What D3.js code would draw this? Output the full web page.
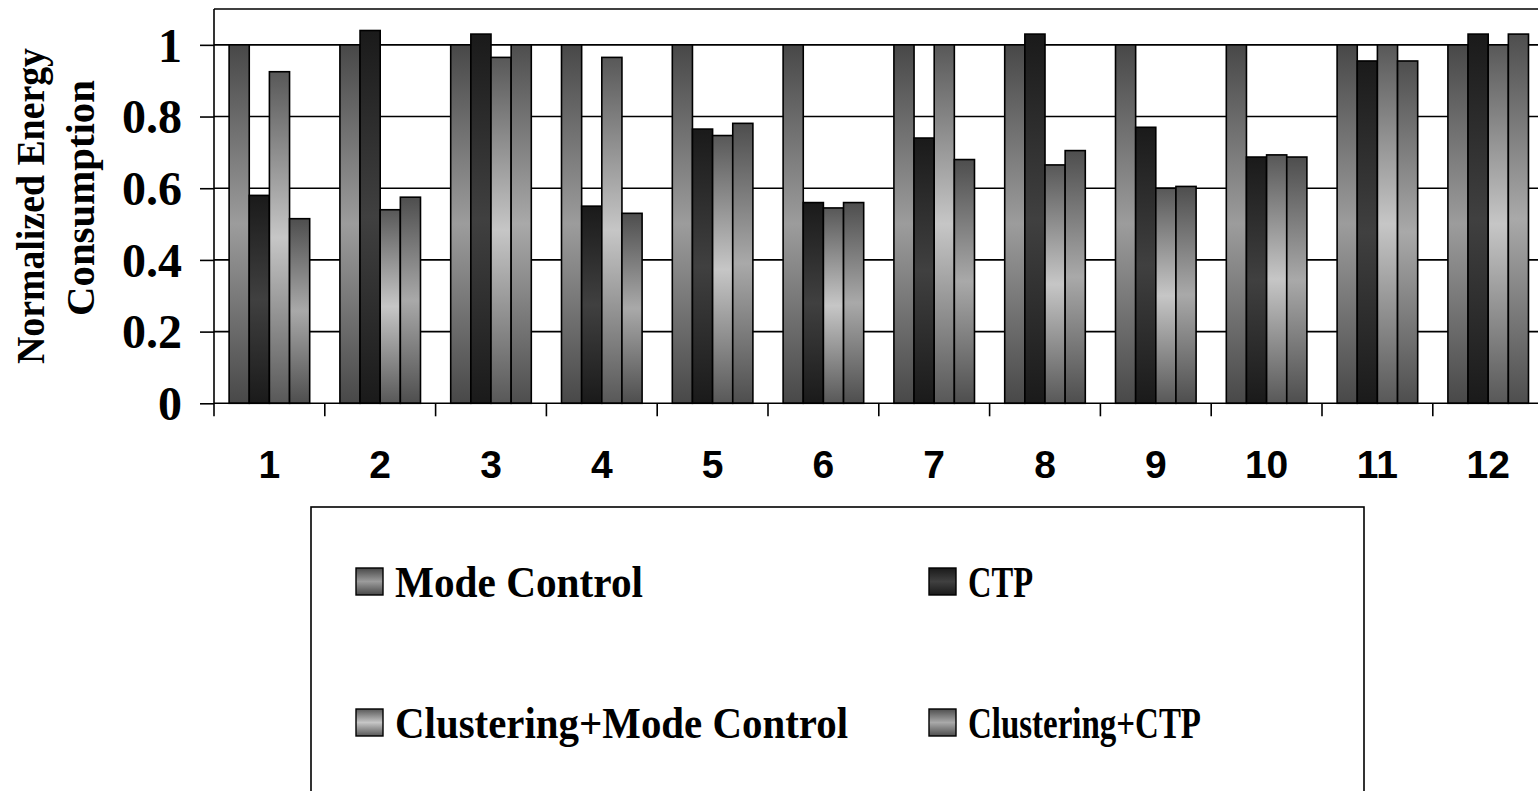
<!DOCTYPE html>
<html>
<head>
<meta charset="utf-8">
<script src="https://cdn.jsdelivr.net/npm/d3@7"></script>
<style>
  body { margin: 0; background: #fff; }
  .aText { font-family: "Liberation Serif", "Times New Roman", serif; font-weight: bold; }
  .xText { font-family: "Liberation Sans", Arial, sans-serif; font-weight: bold; }
</style>
</head>
<body>
<div id="chart"></div>
<script>
/// Data.
var categories = ["1", "2", "3", "4", "5", "6", "7", "8", "9", "10", "11", "12"];
var seriesNames = ["Mode Control", "CTP", "Clustering+Mode Control", "Clustering+CTP"];
var modeControl = [1, 1, 1, 1, 1, 1, 1, 1, 1, 1, 1, 1];
var ctp = [0.58, 1.04, 1.03, 0.55, 0.765, 0.56, 0.74, 1.03, 0.77, 0.687, 0.955, 1.03];
var clusteringMode = [0.925, 0.54, 0.965, 0.965, 0.747, 0.545, 1.0, 0.665, 0.60, 0.693, 1.0, 1.0];
var clusteringCtp = [0.515, 0.575, 1.0, 0.53, 0.781, 0.56, 0.68, 0.705, 0.605, 0.687, 0.955, 1.03];
var yTicks = [0, 0.2, 0.4, 0.6, 0.8, 1];

var seriesValues = [modeControl, ctp, clusteringMode, clusteringCtp];

/// Gradient stops (edge, middle) per series, Excel style shading.
var shades = [
  ["#484848", "#9c9c9c"],
  ["#1a1a1a", "#404040"],
  ["#585858", "#c6c6c6"],
  ["#4e4e4e", "#a9a9a9"]
];

var width = 1538;
var height = 791;
var plotLeft = 214;
var plotTop = 9;
var plotBottom = 403.3;
var step = 110.8;
var plotRight = plotLeft + step * categories.length;

var svg = d3.select("#chart").append("svg")
  .attr("width", width)
  .attr("height", height);

var defs = svg.append("defs");
shades.forEach(function (s, i) {
  var g = defs.append("linearGradient")
    .attr("id", "shade" + i)
    .attr("x1", 0).attr("y1", 0).attr("x2", 0).attr("y2", 1);
  g.append("stop").attr("offset", "0%").attr("stop-color", s[0]);
  g.append("stop").attr("offset", "50%").attr("stop-color", s[1]);
  g.append("stop").attr("offset", "100%").attr("stop-color", s[0]);
});

var x0 = d3.scaleBand()
  .domain(categories)
  .range([plotLeft, plotRight])
  .padding(0);

var x1 = d3.scaleBand()
  .domain(seriesNames)
  .range([0, x0.bandwidth()])
  .paddingInner(0)
  .paddingOuter(0.75);

var y = d3.scaleLinear()
  .domain([0, 1.1])
  .range([plotBottom, plotTop]);

/// Gridlines.
svg.append("g")
  .selectAll("line")
  .data(yTicks.filter(function (d) { return d > 0; }))
  .enter()
  .append("line")
  .attr("x1", plotLeft)
  .attr("x2", width + 10)
  .attr("y1", function (d) { return y(d); })
  .attr("y2", function (d) { return y(d); })
  .attr("stroke", "#000")
  .attr("stroke-width", 1.6);

/// Top border of the plot area.
svg.append("line")
  .attr("x1", plotLeft).attr("x2", width + 10)
  .attr("y1", plotTop).attr("y2", plotTop)
  .attr("stroke", "#000").attr("stroke-width", 1.6);

/// Bars.
var rows = categories.map(function (c, i) {
  return seriesNames.map(function (s, j) {
    return { cat: c, name: s, idx: j, value: seriesValues[j][i] };
  });
});

svg.append("g")
  .selectAll("g")
  .data(rows)
  .enter()
  .append("g")
  .attr("transform", function (d) { return "translate(" + x0(d[0].cat) + ",0)"; })
  .selectAll("rect")
  .data(function (d) { return d; })
  .enter()
  .append("rect")
  .attr("x", function (d) { return x1(d.name); })
  .attr("y", function (d) { return y(d.value); })
  .attr("width", x1.bandwidth())
  .attr("height", function (d) { return y(0) - y(d.value); })
  .attr("fill", function (d) { return "url(#shade" + d.idx + ")"; })
  .attr("stroke", "#000")
  .attr("stroke-width", 1.6);

/// Y axis.
var yAxis = d3.axisLeft(y)
  .tickValues(yTicks)
  .tickSize(14)
  .tickFormat(function (d) { return d === 0 || d === 1 ? String(d) : d3.format(".1f")(d); });

var yG = svg.append("g")
  .attr("transform", "translate(" + plotLeft + ",0)")
  .call(yAxis);
yG.select(".domain").remove();
yG.selectAll(".tick line").attr("stroke", "#000").attr("stroke-width", 1.6);
yG.selectAll(".tick text")
  .attr("class", "aText")
  .attr("x", -32)
  .attr("dy", "0.34em")
  .attr("font-size", 48)
  .attr("fill", "#000");

svg.append("line")
  .attr("x1", plotLeft).attr("x2", plotLeft)
  .attr("y1", plotTop).attr("y2", plotBottom + 13)
  .attr("stroke", "#000").attr("stroke-width", 1.6);

/// X axis.
var xG = svg.append("g")
  .attr("transform", "translate(0," + plotBottom + ")");
xG.append("line")
  .attr("x1", plotLeft).attr("x2", width + 10)
  .attr("y1", 0).attr("y2", 0)
  .attr("stroke", "#000").attr("stroke-width", 1.6);
xG.selectAll(".xtick")
  .data(categories)
  .enter()
  .append("line")
  .attr("class", "xtick")
  .attr("x1", function (d) { return x0(d) + x0.bandwidth(); })
  .attr("x2", function (d) { return x0(d) + x0.bandwidth(); })
  .attr("y1", 0).attr("y2", 13)
  .attr("stroke", "#000").attr("stroke-width", 1.6);
xG.selectAll(".xlabel")
  .data(categories)
  .enter()
  .append("text")
  .attr("class", "xText")
  .attr("x", function (d) { return x0(d) + x0.bandwidth() / 2; })
  .attr("y", 75)
  .attr("text-anchor", "middle")
  .attr("font-size", 39)
  .text(function (d) { return d; });

/// Y axis title.
var yTitle = svg.append("text")
  .attr("class", "aText")
  .attr("transform", "translate(0,206) rotate(-90)")
  .attr("text-anchor", "middle")
  .attr("font-size", 40);
yTitle.append("tspan").attr("x", 0).attr("y", 44).attr("textLength", 316).attr("lengthAdjust", "spacingAndGlyphs").text("Normalized Energy");
yTitle.append("tspan").attr("x", 8).attr("y", 94).attr("textLength", 236).attr("lengthAdjust", "spacingAndGlyphs").text("Consumption");

/// Legend.
var legend = svg.append("g");
legend.append("rect")
  .attr("x", 311).attr("y", 507)
  .attr("width", 1053).attr("height", 400)
  .attr("fill", "#fff")
  .attr("stroke", "#000")
  .attr("stroke-width", 1.6);

var legendPos = [[356, 568], [929, 568], [356, 709], [929, 709]];
var legendFit = [248, 65, 453, 233];

var items = legend.selectAll(".item")
  .data(seriesNames)
  .enter()
  .append("g")
  .attr("class", "item")
  .attr("transform", function (d, i) { return "translate(" + legendPos[i][0] + "," + legendPos[i][1] + ")"; });

items.append("rect")
  .attr("width", 27).attr("height", 27)
  .attr("fill", function (d, i) { return "url(#shade" + i + ")"; })
  .attr("stroke", "#000")
  .attr("stroke-width", 1.4);

items.append("text")
  .attr("class", "aText")
  .attr("x", 39)
  .attr("y", 29)
  .attr("font-size", 45)
  .attr("textLength", function (d, i) { return legendFit[i]; })
  .attr("lengthAdjust", "spacingAndGlyphs")
  .text(function (d) { return d; });
</script>
</body>
</html>
